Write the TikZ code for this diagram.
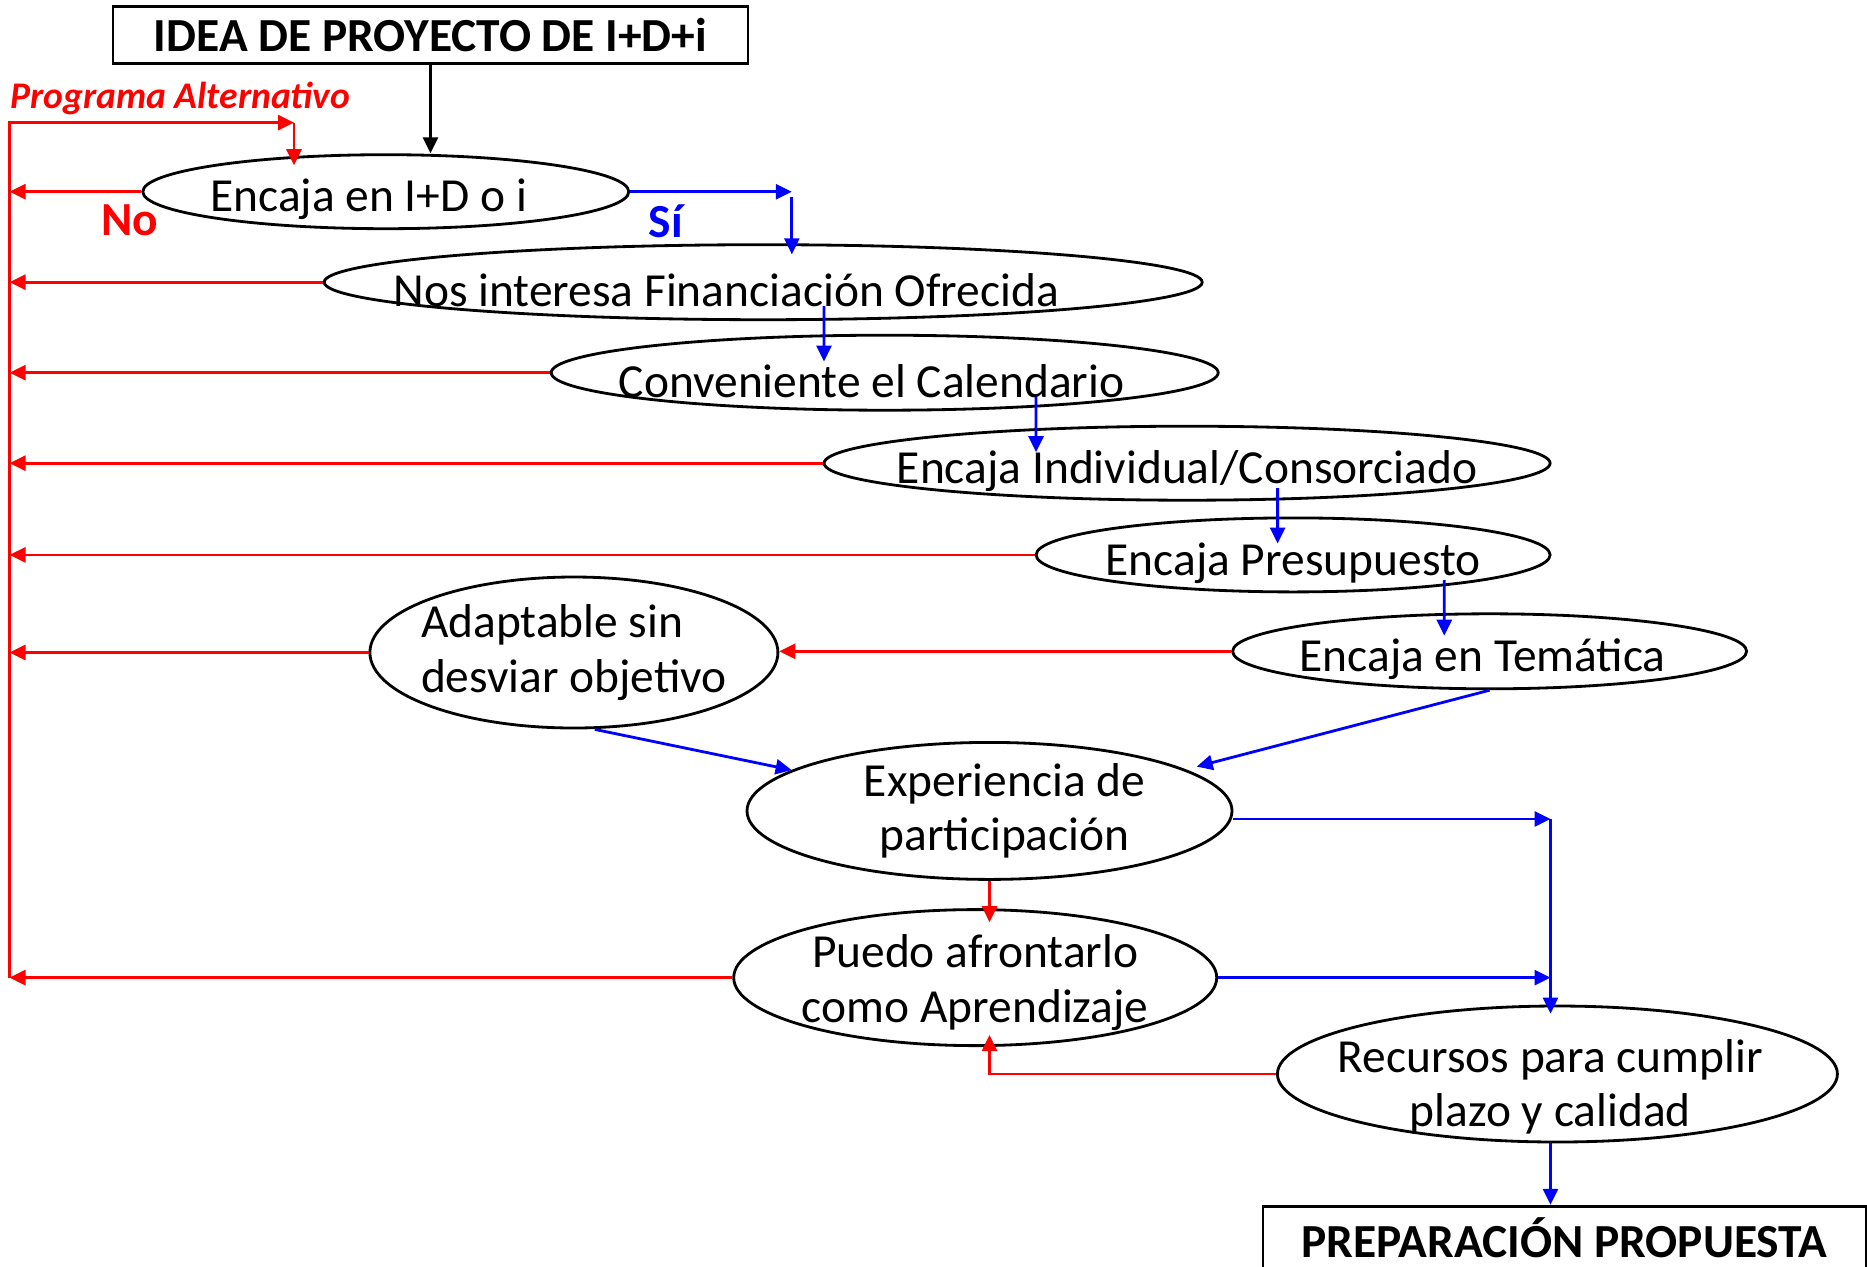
\documentclass[tikz,border=0pt]{standalone}
\usepackage{fontspec}
\setmainfont{Carlito}
\usepackage{tikz}
\usetikzlibrary{positioning, calc, shapes, arrows.meta}

\begin{document}
\begin{tikzpicture}[>={Triangle[length=1.6mm, width=1.5mm]}, x=0.1mm, y=-0.1mm,
				thick, dec/.style={draw, ellipse, inner sep=0pt},
				caja/.style={draw, rectangle, minimum height=5.6mm, font=\fontsize{13.5}{16}\selectfont\bfseries},
				every label/.style={align=center, font=\fontsize{13.5}{15.5}\selectfont},
				no/.style={red, ->}, si/.style={blue, ->},
				etq/.style={font=\fontsize{13.5}{16}\selectfont\bfseries} ]
				\useasboundingbox (0,0) rectangle (1867,1266);
				\node[caja, minimum width=63.5mm] (idea) at (430.5,35)    {IDEA DE PROYECTO DE I+D+i};
				\node[caja, minimum width=60.3mm, minimum height=5.2mm] (prep) at (1564.5,1238) {PREPARACIÓN PROPUESTA};
				
				%Preguntas:
				\node[dec, minimum width=48.6mm, minimum height=7.4mm, label={[xshift=-1.7mm, yshift=-0.8mm]center:Encaja en I+D o i}] (e1) at (385.8,191.7) {};
				\node[dec, minimum width=87.8mm, minimum height=7.5mm, label={[xshift=-3.7mm, yshift=-0.8mm]center:Nos interesa Financiación Ofrecida}] (e2) at (763.2,282.2) {};
				\node[dec, minimum width=66.7mm, minimum height=7.5mm, label={[xshift=-1.3mm, yshift=-0.8mm]center:Conveniente el Calendario}] (e3) at (884.7,372.7) {};
				\node[dec, minimum width=72.6mm, minimum height=7.4mm, label={[yshift=-0.8mm]center:Encaja Individual/Consorciado}] (e4) at (1187.1,463.2) {};
				\node[dec, minimum width=51.4mm, minimum height=7.4mm, label={[yshift=-0.8mm]center:Encaja Presupuesto}] (e5) at (1293.1,554.9) {};
				\node[dec, minimum width=51.4mm, minimum height=7.5mm, label={[xshift=-0.7mm, yshift=-0.8mm]center:Encaja en Temática}] (e6) at (1489.6,651.3) {};
				\node[dec, minimum width=40.8mm, minimum height=15.1mm, label={[align=left]center:Adaptable sin\\desviar objetivo}] (e7) at (573.9,652.5) {};
				\node[dec, minimum width=48.5mm, minimum height=13.7mm, label={[xshift=1.5mm]center:Experiencia de\\participación}] (e8) at (989.5,810.9) {};
				\node[dec, minimum width=48.3mm, minimum height=13.6mm, label={[yshift=-0.5mm]center:Puedo afrontarlo\\como Aprendizaje}] (e9) at (975.2,977.6) {};
				\node[dec, minimum width=56mm, minimum height=13.6mm, label={[xshift=-0.7mm, yshift=-1.3mm]center:Recursos para cumplir\\plazo y calidad}] (e10) at (1557.4,1074) {};
				
				\coordinate (lft) at (9.5,122.6);
				\coordinate (pa) at (294,122.6);
				\coordinate (si) at (791.8,191.7);
				\coordinate (cr) at (1550.5,819);
				\coordinate (r9) at ([shift={(14.3,-12)}]e9.south);
				
				\draw[->] (idea.south) -- (idea.south |- e1.north);
				
				%Ramas No:
				\draw[no] (e9.west -| lft) -- (lft) -- (pa) node[pos=0.6, above, inner sep=0.6mm, font=\fontsize{10.7}{13}\selectfont\bfseries\itshape] (alt) {Programa Alternativo};
				\draw[no] (pa) -- ([shift={(-91.8,11.9)}]e1.north);
				\draw[no] (e1.west) -- (e1.west -| lft) node[pos=0.09, below, etq] (lno) {No};
				\draw[no] (e2.west) -- (e2.west -| lft);
				\draw[no] (e3.west) -- (e3.west -| lft);
				\draw[no] (e4.west) -- (e4.west -| lft);
				\draw[no] (e5.west) -- (e5.west -| lft);
				\draw[no] (e7.west) -- (e7.west -| lft);
				\draw[no] (e9.west) -- (e9.west -| lft);
				\draw[no] (e6.west) -- (e6.west -| e7.east);
				\draw[no] (e8.south) -- ([shift={(14.3,14)}]e9.north);
				\draw[no] (e10.west) -| (r9);
				
				%Ramas Sí:
				\draw[si] (e1.east) -- (si) node[pos=0.22, below, etq] (lsi) {Sí};
				\draw[si] ([shift={(0,5)}]si) -- ([shift={(28.6,11)}]e2.north);
				\draw[si] ([shift={(60.8,23.8)}]e2.center) -- ([shift={(-60.7,27.8)}]e3.north);
				\draw[si] ([shift={(151.3,23.8)}]e3.center) -- ([shift={(-151.1,27.4)}]e4.north);
				\draw[si] ([shift={(90.5,24.8)}]e4.center) -- ([shift={(-15.5,27)}]e5.north);
				\draw[si] ([shift={(151.2,25.1)}]e5.center) -- ([shift={(-45.3,23.2)}]e6.north);
				\draw[si] (e6.south) -- ([shift={(207.2,25.6)}]e8.north);
				\draw[si] ([shift={(21,0)}]e7.south) -- (e8);
				\draw[si] (e8.east |- cr) -- (cr);
				\draw[si] (cr) -- ([shift={(-6.9,9)}]e10.north);
				\draw[si] (e9.east) -- (e9.east -| cr);
				\draw[si] (e10.south -| cr) -- (prep.north -| cr);
			\end{tikzpicture}
\end{document}
